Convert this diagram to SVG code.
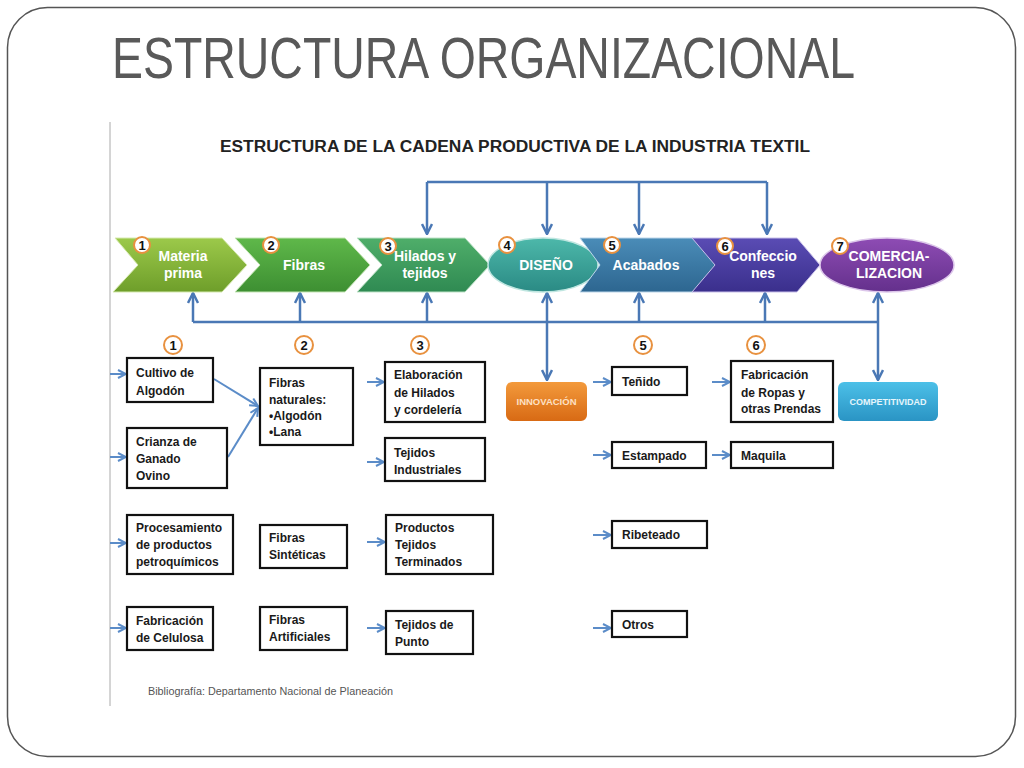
<svg xmlns="http://www.w3.org/2000/svg" width="1024" height="768" viewBox="0 0 1024 768">
<defs>
<style>
.lbl{font-family:"Liberation Sans",Arial,sans-serif;font-weight:bold;font-size:12px;fill:#1a1a1a}
.wl{font-family:"Liberation Sans",Arial,sans-serif;font-weight:bold;font-size:14px;fill:#ffffff;text-anchor:middle}
.num{font-family:"Liberation Sans",Arial,sans-serif;font-weight:bold;font-size:13px;fill:#111;text-anchor:middle}
.box{fill:#ffffff;stroke:#111;stroke-width:2.2}
.badge{fill:#fff;stroke:#e8913f;stroke-width:2}
.conn{fill:none;stroke:#4a78b5;stroke-width:2.5}
.ent{fill:none;stroke:#5b8cc8;stroke-width:2}
</style>
<marker id="ah" viewBox="0 0 10 10" refX="9" refY="5" markerWidth="5" markerHeight="5" orient="auto" markerUnits="strokeWidth">
<path d="M1,1 L9,5 L1,9" fill="none" stroke="#4a78b5" stroke-width="2"/>
</marker>
<marker id="ah2" viewBox="0 0 10 10" refX="9" refY="5" markerWidth="5" markerHeight="5" orient="auto" markerUnits="strokeWidth">
<path d="M1,1 L9,5 L1,9" fill="none" stroke="#5b8cc8" stroke-width="2"/>
</marker>
<linearGradient id="g1" x1="0" y1="0" x2="0" y2="1"><stop offset="0" stop-color="#9cc94a"/><stop offset="1" stop-color="#6e9e2a"/></linearGradient>
<linearGradient id="g2" x1="0" y1="0" x2="0" y2="1"><stop offset="0" stop-color="#5fb84a"/><stop offset="1" stop-color="#3d8f32"/></linearGradient>
<linearGradient id="g3" x1="0" y1="0" x2="0" y2="1"><stop offset="0" stop-color="#4fae6a"/><stop offset="1" stop-color="#2f8a52"/></linearGradient>
<linearGradient id="g4" x1="0" y1="0" x2="0" y2="1"><stop offset="0" stop-color="#4db8aa"/><stop offset="1" stop-color="#2a8a84"/></linearGradient>
<linearGradient id="g5" x1="0" y1="0" x2="0" y2="1"><stop offset="0" stop-color="#4a8cb8"/><stop offset="1" stop-color="#2d6690"/></linearGradient>
<linearGradient id="g6" x1="0" y1="0" x2="0" y2="1"><stop offset="0" stop-color="#5a4cb4"/><stop offset="1" stop-color="#3a2f8c"/></linearGradient>
<linearGradient id="g7" x1="0" y1="0" x2="0" y2="1"><stop offset="0" stop-color="#8e4cb4"/><stop offset="1" stop-color="#64308c"/></linearGradient>
<linearGradient id="go" x1="0" y1="0" x2="0" y2="1"><stop offset="0" stop-color="#f39a3c"/><stop offset="1" stop-color="#d86a14"/></linearGradient>
<linearGradient id="gb" x1="0" y1="0" x2="0" y2="1"><stop offset="0" stop-color="#4cc0e8"/><stop offset="1" stop-color="#2a94c4"/></linearGradient>
</defs>
<rect width="1024" height="768" fill="#ffffff"/>
<rect x="7.5" y="7.5" width="1008" height="749" rx="40" ry="40" fill="none" stroke="#555" stroke-width="1.5"/>
<text x="112" y="78" font-family="Liberation Sans,Arial,sans-serif" font-size="57" fill="#595959" textLength="743" lengthAdjust="spacingAndGlyphs">ESTRUCTURA ORGANIZACIONAL</text>
<line x1="110" y1="122" x2="110" y2="706" stroke="#aaa" stroke-width="1"/>
<text x="220" y="152" font-family="Liberation Sans,Arial,sans-serif" font-weight="bold" font-size="16" fill="#222" textLength="590" lengthAdjust="spacingAndGlyphs">ESTRUCTURA DE LA CADENA PRODUCTIVA DE LA INDUSTRIA TEXTIL</text>

<g id="connectors">
<path class="conn" d="M427,182 H767"/>
<path class="conn" d="M427,182 V234" marker-end="url(#ah)"/>
<path class="conn" d="M547,182 V234" marker-end="url(#ah)"/>
<path class="conn" d="M639,182 V234" marker-end="url(#ah)"/>
<path class="conn" d="M767,182 V234" marker-end="url(#ah)"/>
<path class="conn" d="M193,322 H878"/>
<path class="conn" d="M193,322 V293" marker-end="url(#ah)"/>
<path class="conn" d="M300,322 V293" marker-end="url(#ah)"/>
<path class="conn" d="M427,322 V293" marker-end="url(#ah)"/>
<path class="conn" d="M547,322 V293" marker-end="url(#ah)"/>
<path class="conn" d="M639,322 V293" marker-end="url(#ah)"/>
<path class="conn" d="M765,322 V293" marker-end="url(#ah)"/>
<path class="conn" d="M878,322 V293" marker-end="url(#ah)"/>
<path class="conn" d="M547,322 V380" marker-end="url(#ah)"/>
<path class="conn" d="M878,322 V380" marker-end="url(#ah)"/>
<path class="ent" d="M110,374 H126" marker-end="url(#ah2)"/>
<path class="ent" d="M110,457 H126" marker-end="url(#ah2)"/>
<path class="ent" d="M110,543 H126" marker-end="url(#ah2)"/>
<path class="ent" d="M110,628 H126" marker-end="url(#ah2)"/>
<path class="ent" d="M214,379 L258,406" marker-end="url(#ah2)"/>
<path class="ent" d="M228,457 L258,408" marker-end="url(#ah2)"/>
<path class="ent" d="M367,382 H384" marker-end="url(#ah2)"/>
<path class="ent" d="M367,462 H384" marker-end="url(#ah2)"/>
<path class="ent" d="M367,542 H385" marker-end="url(#ah2)"/>
<path class="ent" d="M367,628 H385" marker-end="url(#ah2)"/>
<path class="ent" d="M593,382 H611" marker-end="url(#ah2)"/>
<path class="ent" d="M593,455 H611" marker-end="url(#ah2)"/>
<path class="ent" d="M593,535 H611" marker-end="url(#ah2)"/>
<path class="ent" d="M593,628 H611" marker-end="url(#ah2)"/>
<path class="ent" d="M712,382 H730" marker-end="url(#ah2)"/>
<path class="ent" d="M712,455 H730" marker-end="url(#ah2)"/>
</g>

<g id="n1">
<polygon points="115,238 222,238 247,265 222,292 113,292 138,265" fill="url(#g1)" stroke="#d6eab0" stroke-width="1"/>
<circle class="badge" cx="142" cy="245" r="8"/><text class="num" x="142" y="249.5">1</text>
<text class="wl" x="183" y="261">Materia</text><text class="wl" x="183" y="278">prima</text>
</g>
<g id="n2">
<polygon points="235,238 345,238 370,265 345,292 235,292 260,265" fill="url(#g2)" stroke="#c6e6b6" stroke-width="1"/>
<circle class="badge" cx="271" cy="245" r="8"/><text class="num" x="271" y="249.5">2</text>
<text class="wl" x="304" y="270">Fibras</text>
</g>
<g id="n3">
<polygon points="357,238 465,238 490,265 465,292 357,292 382,265" fill="url(#g3)" stroke="#bfe3c8" stroke-width="1"/>
<circle class="badge" cx="388" cy="246" r="8"/><text class="num" x="388" y="250.5">3</text>
<text class="wl" x="425" y="261">Hilados y</text><text class="wl" x="425" y="278">tejidos</text>
</g>
<g id="n4">
<ellipse cx="543" cy="265" rx="55" ry="27" fill="url(#g4)" stroke="#bfe6e0" stroke-width="1.5"/>
<circle class="badge" cx="507" cy="245" r="8"/><text class="num" x="507" y="249.5">4</text>
<text class="wl" x="546" y="270">DISEÑO</text>
</g>
<g id="n5">
<polygon points="580,238 693,238 717,265 693,292 580,292 600,265" fill="url(#g5)" stroke="#bcd6ea" stroke-width="1"/>
<circle class="badge" cx="612" cy="245" r="8"/><text class="num" x="612" y="249.5">5</text>
<text class="wl" x="646" y="270">Acabados</text>
</g>
<g id="n6">
<polygon points="692,238 797,238 820,265 797,292 692,292 715,265" fill="url(#g6)" stroke="#c8c0ea" stroke-width="1"/>
<circle class="badge" cx="725" cy="246" r="8"/><text class="num" x="725" y="250.5">6</text>
<text class="wl" x="763" y="261">Confeccio</text><text class="wl" x="763" y="278">nes</text>
</g>
<g id="n7">
<ellipse cx="887" cy="265" rx="67" ry="27" fill="url(#g7)" stroke="#dcc6ea" stroke-width="1.5"/>
<circle class="badge" cx="840" cy="246" r="8"/><text class="num" x="840" y="250.5">7</text>
<text class="wl" x="889" y="261">COMERCIA-</text><text class="wl" x="889" y="278">LIZACION</text>
</g>

<g id="badges-lower">
<circle class="badge" cx="173" cy="345" r="9"/><text class="num" x="173" y="349.5">1</text>
<circle class="badge" cx="304" cy="345" r="9"/><text class="num" x="304" y="349.5">2</text>
<circle class="badge" cx="420" cy="345" r="9"/><text class="num" x="420" y="349.5">3</text>
<circle class="badge" cx="643" cy="345" r="9"/><text class="num" x="643" y="349.5">5</text>
<circle class="badge" cx="756" cy="345" r="9"/><text class="num" x="756" y="349.5">6</text>
</g>

<g id="b-cultivo"><rect class="box" x="127" y="358" width="86" height="44"/><text class="lbl" x="136" y="377">Cultivo de</text><text class="lbl" x="136" y="395">Algodón</text></g>
<g id="b-crianza"><rect class="box" x="127" y="428" width="100" height="60"/><text class="lbl" x="136" y="446">Crianza de</text><text class="lbl" x="136" y="463">Ganado</text><text class="lbl" x="136" y="480">Ovino</text></g>
<g id="b-procesamiento"><rect class="box" x="127" y="515" width="106" height="59"/><text class="lbl" x="136" y="532">Procesamiento</text><text class="lbl" x="136" y="549">de productos</text><text class="lbl" x="136" y="566">petroquímicos</text></g>
<g id="b-celulosa"><rect class="box" x="127" y="607" width="86" height="43"/><text class="lbl" x="136" y="625">Fabricación</text><text class="lbl" x="136" y="642">de Celulosa</text></g>

<g id="b-naturales"><rect class="box" x="260" y="368" width="93" height="77"/><text class="lbl" x="269" y="387">Fibras</text><text class="lbl" x="269" y="404">naturales:</text><text class="lbl" x="269" y="420">•Algodón</text><text class="lbl" x="269" y="436">•Lana</text></g>
<g id="b-sinteticas"><rect class="box" x="260" y="525" width="87" height="43"/><text class="lbl" x="269" y="542">Fibras</text><text class="lbl" x="269" y="559">Sintéticas</text></g>
<g id="b-artificiales"><rect class="box" x="260" y="607" width="87" height="43"/><text class="lbl" x="269" y="624">Fibras</text><text class="lbl" x="269" y="641">Artificiales</text></g>

<g id="b-elaboracion"><rect class="box" x="385" y="362" width="100" height="60"/><text class="lbl" x="394" y="379">Elaboración</text><text class="lbl" x="394" y="397">de Hilados</text><text class="lbl" x="394" y="414">y cordelería</text></g>
<g id="b-industriales"><rect class="box" x="385" y="438" width="100" height="43"/><text class="lbl" x="394" y="457">Tejidos</text><text class="lbl" x="394" y="474">Industriales</text></g>
<g id="b-productos"><rect class="box" x="386" y="515" width="107" height="59"/><text class="lbl" x="395" y="532">Productos</text><text class="lbl" x="395" y="549">Tejidos</text><text class="lbl" x="395" y="566">Terminados</text></g>
<g id="b-punto"><rect class="box" x="386" y="611" width="87" height="43"/><text class="lbl" x="395" y="629">Tejidos de</text><text class="lbl" x="395" y="646">Punto</text></g>

<g id="b-innovacion"><rect x="506" y="382" width="81" height="39" rx="6" fill="url(#go)"/><text x="546.5" y="405" font-family="Liberation Sans,Arial,sans-serif" font-weight="bold" font-size="8.5" fill="#fde0c4" text-anchor="middle" textLength="60" lengthAdjust="spacingAndGlyphs">INNOVACIÓN</text></g>
<g id="b-competitividad"><rect x="838" y="382" width="100" height="39" rx="6" fill="url(#gb)"/><text x="888" y="405" font-family="Liberation Sans,Arial,sans-serif" font-weight="bold" font-size="8.5" fill="#e6f6fc" text-anchor="middle" textLength="77" lengthAdjust="spacingAndGlyphs">COMPETITIVIDAD</text></g>

<g id="b-tenido"><rect class="box" x="612" y="367" width="75" height="28"/><text class="lbl" x="622" y="386">Teñido</text></g>
<g id="b-estampado"><rect class="box" x="612" y="442" width="94" height="26"/><text class="lbl" x="622" y="460">Estampado</text></g>
<g id="b-ribeteado"><rect class="box" x="612" y="521" width="95" height="27"/><text class="lbl" x="622" y="539">Ribeteado</text></g>
<g id="b-otros"><rect class="box" x="612" y="611" width="75" height="26"/><text class="lbl" x="622" y="629">Otros</text></g>
<g id="b-ropas"><rect class="box" x="731" y="361" width="102" height="61"/><text class="lbl" x="741" y="379">Fabricación</text><text class="lbl" x="741" y="397">de Ropas y</text><text class="lbl" x="741" y="413">otras Prendas</text></g>
<g id="b-maquila"><rect class="box" x="731" y="442" width="102" height="26"/><text class="lbl" x="741" y="460">Maquila</text></g>

<text x="148" y="695" font-family="Liberation Sans,Arial,sans-serif" font-size="10.5" fill="#555" textLength="245" lengthAdjust="spacingAndGlyphs">Bibliografía: Departamento Nacional de Planeación</text>
</svg>
